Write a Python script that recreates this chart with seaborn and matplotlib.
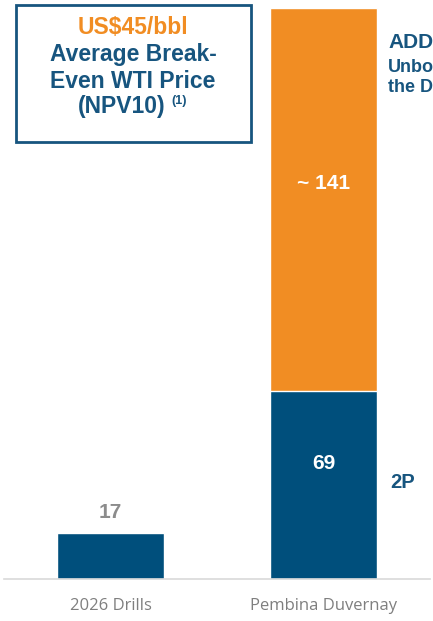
import matplotlib
matplotlib.use("Agg")

import pandas as pd
import seaborn as sns
import matplotlib.pyplot as plt
from matplotlib.patches import Rectangle

# data
categories = ['2026 Drills', 'Pembina Duvernay']
booked = [17, 69]          # blue segment
unbooked = [0, 141]        # orange segment
booked_labels = ['17', '69']
unbooked_labels = ['', '~ 141']

BLUE = '#004F7C'
ORANGE = '#F18D23'
NAVY = '#17557F'
GREY = '#8C8C8C'

totals = [b + u for b, u in zip(booked, unbooked)]
df = pd.DataFrame({'category': categories, 'booked': booked, 'total': totals})

sns.set_style('white')
plt.rcParams['font.family'] = ['Liberation Sans', 'DejaVu Sans']

fig = plt.figure(figsize=(4.33, 6.21), dpi=100)
ax = fig.add_axes([4 / 433, 42 / 621, 426 / 433, 579 / 621])

# totals first (orange), then booked over the bottom part (blue)
sns.barplot(data=df, x='category', y='total', color=ORANGE, width=0.5,
            saturation=1, ax=ax)
sns.barplot(data=df, x='category', y='booked', color=BLUE, width=0.5,
            saturation=1, ax=ax)

ax.set_xlim(-0.5, 1.5)
ax.set_ylim(0, 213)
ax.set_xlabel('')
ax.set_ylabel('')
ax.set_yticks([])
for s in ['top', 'left', 'right']:
    ax.spines[s].set_visible(False)
ax.spines['bottom'].set_color('#D9D9D9')
ax.spines['bottom'].set_linewidth(1.2)
ax.tick_params(axis='x', length=0, pad=14, labelsize=12, labelcolor='#7F7F7F')
for t in ax.get_xticklabels():
    t.set_fontfamily(['Open Sans', 'DejaVu Sans'])

# value labels
ax.text(0, booked[0] + 4, booked_labels[0], ha='center', va='bottom',
        fontsize=15, fontweight='bold', color=GREY)
ax.text(1, booked[1] / 2 + 8, booked_labels[1], ha='center', va='center',
        fontsize=15, fontweight='bold', color='white')
ax.text(1, booked[1] + unbooked[1] / 2 + 6, unbooked_labels[1], ha='center',
        va='center', fontsize=15, fontweight='bold', color='white')

# callout box
fig.patches.append(Rectangle((16 / 433, 1 - 142 / 621), 235 / 433, 137 / 621,
                             transform=fig.transFigure, fill=False,
                             edgecolor=NAVY, linewidth=2))
cx = 133 / 433
fig.text(cx, 1 - 28 / 621, 'US$45/bbl', ha='center', va='center',
         fontsize=16.5, fontweight='bold', color=ORANGE)
fig.text(cx, 1 - 55 / 621, 'Average Break-', ha='center', va='center',
         fontsize=16.5, fontweight='bold', color=NAVY)
fig.text(cx, 1 - 81 / 621, 'Even WTI Price', ha='center', va='center',
         fontsize=16.5, fontweight='bold', color=NAVY)
fig.text(122 / 433, 1 - 107 / 621, '(NPV10)', ha='center', va='center',
         fontsize=16.5, fontweight='bold', color=NAVY)
fig.text(171 / 433, 1 - 101 / 621, '(1)', ha='left', va='center',
         fontsize=9, fontweight='bold', color=NAVY)

# side labels (only the part visible at the right edge)
fig.text(388 / 433, 1 - 42 / 621, 'ADD', ha='left', va='center',
         fontsize=15, fontweight='bold', color=NAVY)
fig.text(388 / 433, 1 - 67 / 621, 'Unbo', ha='left', va='center',
         fontsize=13, fontweight='bold', color=NAVY)
fig.text(388 / 433, 1 - 88 / 621, 'the D', ha='left', va='center',
         fontsize=13, fontweight='bold', color=NAVY)
fig.text(390 / 433, 1 - 482 / 621, '2P', ha='left', va='center',
         fontsize=14.5, fontweight='bold', color=NAVY)

plt.savefig('out.png', dpi=100)
plt.close()
